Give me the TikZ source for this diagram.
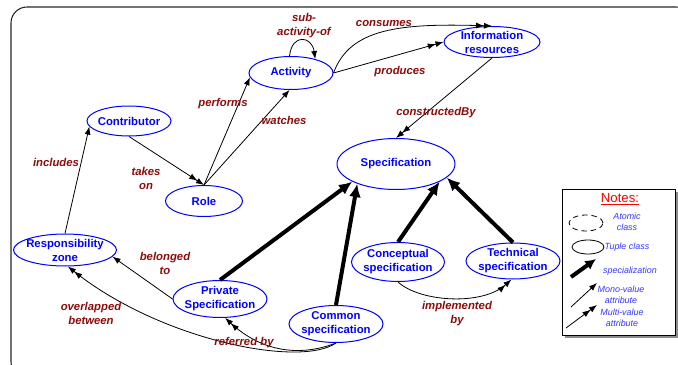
\documentclass[tikz,border=0pt]{standalone}
\usepackage{fontspec}
\setmainfont{Liberation Sans}
\usetikzlibrary{shapes.geometric,arrows.meta}
\definecolor{relred}{RGB}{140,12,12}
\definecolor{entblue}{RGB}{0,0,255}
\definecolor{noteblue}{RGB}{55,55,255}
\definecolor{notered}{RGB}{255,0,0}
\begin{document}
\begin{tikzpicture}[x=0.75pt,y=-0.75pt,
  ent/.style={ellipse,draw=entblue,line width=0.75pt,text=entblue,
    font=\fontsize{8.5}{10.5}\selectfont\bfseries,align=center,
    inner xsep=-40pt,inner ysep=-20pt},
  rel/.style={text=relred,font=\fontsize{8.5}{10.5}\selectfont\bfseries\itshape,
    align=center,inner sep=0pt},
  note/.style={text=noteblue,font=\fontsize{6.7}{8.2}\selectfont\itshape,
    align=center,inner sep=0pt},
  mono/.style={draw,line width=0.6pt,-{Latex[length=6pt,width=4.5pt]}},
  multi/.style={draw,line width=0.6pt,
    -{Latex[length=6pt,width=4.5pt]Latex[length=6pt,width=4.5pt]}},
  isa/.style={draw,line width=3pt,-{Latex[length=10pt,width=9pt]}}]

\useasboundingbox (0,0) rectangle (678,364);
\clip (0,0) rectangle (678,364);

% outer frame
\draw[line width=0.8pt,black!85,rounded corners=12pt] (11,7) rectangle (692,378);

% classes
\node[ent,minimum width=63pt,minimum height=22.5pt] (contrib) at (129,121) {Contributor};
\node[ent,minimum width=63pt,minimum height=24.75pt] (act) at (291,73) {Activity};
\node[ent,minimum width=72pt,minimum height=23.25pt] (info) at (492,42) {Information\\resources};
\node[ent,minimum width=88.5pt,minimum height=38.25pt] (spec) at (396,164) {Specification};
\node[ent,minimum width=57.75pt,minimum height=23.25pt] (role) at (204,201) {Role};
\node[ent,minimum width=77.25pt,minimum height=24pt] (resp) at (65,250) {Responsibility\\zone};
\node[ent,minimum width=70.5pt,minimum height=27.75pt] (priv) at (220,299) {Private\\Specification};
\node[ent,minimum width=70.5pt,minimum height=27.75pt] (common) at (336,324) {Common\\specification};
\node[ent,minimum width=69.75pt,minimum height=29.25pt] (concept) at (398,262) {Conceptual\\specification};
\node[ent,minimum width=70.5pt,minimum height=27pt] (tech) at (513,261) {Technical\\specification};

% attributes
\path[mono] (resp.north) -- (contrib.188);
\path[multi] (contrib.south) -- (role.north);
\path[mono] (role.north) -- (act.186);
\path[mono] (role.north) -- (act.-95);
\path[mono] (act.95) .. controls (292,33) and (312,36) .. (act.30);
\path[multi] (act.east) .. controls (350,28) and (400,23) .. (info.north);
\path[multi] (act.east) -- (info.west);
\path[multi] (info.south) -- (spec.north);
\path[mono] (priv.west) -- (resp.-8);
\path[multi] (common.south) .. controls (300,368) and (160,340) .. (resp.-80);
\path[multi] (common.south) .. controls (300,357) and (262,352) .. (priv.-75);
\path[multi] (concept.south) .. controls (420,302) and (482,306) .. (tech.-95);

% specializations
\path[isa] (priv.north) -- (spec.202);
\path[isa] (common.north) -- (spec.207);
\path[isa] (concept.north) -- (spec.-22);
\path[isa] (tech.north) -- (spec.-15);

% relation names
\node[rel] (l-sub) at (304,26) {sub-\\activity-of};
\node[rel] (l-cons) at (384,24) {consumes};
\node[rel] (l-prod) at (400,72) {produces};
\node[rel] (l-perf) at (223,104) {performs};
\node[rel] (l-watch) at (284,120) {watches};
\node[rel] (l-incl) at (56,162) {includes};
\node[rel] (l-takes) at (146,178) {takes\\on};
\node[rel] (l-constr) at (436,113) {constructedBy};
\node[rel] (l-bel) at (165,263) {belonged\\to};
\node[rel] (l-over) at (91,313) {overlapped\\between};
\node[rel] (l-ref) at (244,343) {referred by};
\node[rel] (l-impl) at (457,314) {implemented\\by};

% notes box
\fill[black!45] (565,192) rectangle (678,338);
\draw[fill=white,line width=0.7pt] (562,189) rectangle (675,335);
\node[text=notered,font=\fontsize{9.9}{11}\selectfont,inner sep=0pt] (notes) at (620,199) {\underline{Notes:}};
\node[ellipse,draw,dashed,dash pattern=on 4pt off 3pt,line width=0.6pt,
  minimum width=25.5pt,minimum height=12pt,inner sep=0pt] (atomic) at (586,223) {};
\node[note] (atomic-t) at (627,222) {Atomic\\class};
\node[ellipse,draw,line width=0.6pt,minimum width=24pt,minimum height=10.5pt,
  inner sep=0pt] (tuple) at (588,247) {};
\node[note] (tuple-t) at (627,247) {Tuple class};
\coordinate (sa) at (571,277);
\coordinate (sb) at (596,259);
\path[draw,line width=3pt,-{Latex[length=8pt,width=8pt]}] (sa) -- (sb);
\node[note] (spec-t) at (630,271) {specialization};
\coordinate (ma) at (571,307);
\coordinate (mb) at (597,283);
\path[mono] (ma) -- (mb);
\node[note] (mono-t) at (621,295) {Mono-value\\attribute};
\coordinate (ua) at (566,328);
\coordinate (ub) at (597,305);
\path[multi] (ua) -- (ub);
\node[note] (multi-t) at (622,318) {Multi-value\\attribute};
\end{tikzpicture}
\end{document}
